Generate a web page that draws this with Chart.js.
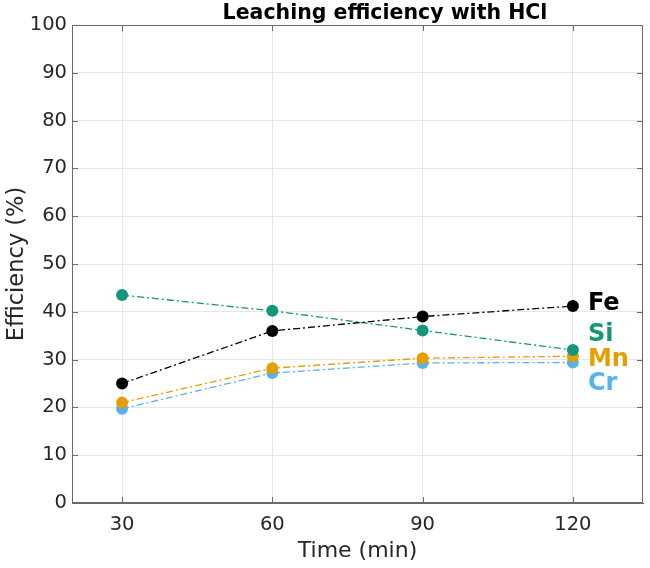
<!DOCTYPE html>
<html>
<head>
<meta charset="utf-8">
<script src="https://cdn.jsdelivr.net/npm/chart.js@4"></script>
<style>
  html, body { margin: 0; padding: 0; background: #fff; }
  #wrap { width: 650px; height: 568px; }
</style>
</head>
<body>
<div id="wrap"><canvas id="chart" width="650" height="568"></canvas></div>
<script>
// ---------- DATA ----------
const times = [30, 60, 90, 120];
const fe = [25.0, 36.0, 39.0, 41.2];
const si = [43.5, 40.2, 36.1, 32.0];
const mn = [21.0, 28.2, 30.3, 30.7];
const cr = [19.7, 27.2, 29.3, 29.4];
const xTicks = [30, 60, 90, 120];
const titleText = "Leaching efficiency with HCl";
// end labels: name, colour, y value where the text sits
const seriesNames = ["Fe", "Si", "Mn", "Cr"];
const labelY = [41.6, 35.2, 29.9, 25.0];

const colors = ["#000000", "#13977a", "#e69f00", "#56b4e9"];
const FONT = "'DejaVu Sans', Verdana, sans-serif";

function pts(vals) { return vals.map((v, i) => ({ x: times[i], y: v })); }

const datasets = [fe, si, mn, cr].map((vals, i) => ({
  label: seriesNames[i],
  data: pts(vals),
  borderColor: colors[i],
  backgroundColor: colors[i],
  borderWidth: 1.3,
  borderDash: [7, 3, 2, 3],
  pointRadius: 6,
  pointHoverRadius: 6,
  pointBorderWidth: 0,
  tension: 0
}));

// title, box around plot, inward tick marks, end labels
const boxAndLabels = {
  id: "boxAndLabels",
  afterDraw(chart) {
    const { ctx, chartArea: a, scales } = chart;
    ctx.save();
    ctx.strokeStyle = "#6a6a6a";
    ctx.lineWidth = 1;
    ctx.strokeRect(a.left + 0.5, a.top + 0.5, a.right - a.left - 1, a.bottom - a.top - 1);
    const tl = 6;
    ctx.beginPath();
    scales.x.ticks.forEach(t => {
      const px = Math.round(scales.x.getPixelForValue(t.value)) + 0.5;
      ctx.moveTo(px, a.bottom); ctx.lineTo(px, a.bottom - tl);
      ctx.moveTo(px, a.top); ctx.lineTo(px, a.top + tl);
    });
    scales.y.ticks.forEach(t => {
      const py = Math.round(scales.y.getPixelForValue(t.value)) + 0.5;
      ctx.moveTo(a.left, py); ctx.lineTo(a.left + tl, py);
      ctx.moveTo(a.right, py); ctx.lineTo(a.right - tl, py);
    });
    ctx.stroke();

    // title
    ctx.fillStyle = "#000";
    ctx.font = "bold 20.5px " + FONT;
    ctx.textAlign = "center";
    ctx.textBaseline = "alphabetic";
    ctx.fillText(titleText, 385, 19);

    ctx.font = "bold 24px " + FONT;
    ctx.textBaseline = "middle";
    ctx.textAlign = "left";
    const x = scales.x.getPixelForValue(times[times.length - 1]) + 15;
    seriesNames.forEach((n, i) => {
      ctx.fillStyle = colors[i];
      ctx.fillText(n, x, scales.y.getPixelForValue(labelY[i]));
    });
    ctx.restore();
  }
};

new Chart(document.getElementById("chart"), {
  type: "line",
  data: { datasets },
  options: {
    responsive: false,
    animation: false,
    layout: { padding: { top: 25, right: 7, left: 0, bottom: 0 } },
    plugins: {
      legend: { display: false },
      tooltip: { enabled: false },
      title: { display: false }
    },
    scales: {
      x: {
        type: "linear",
        min: 20,
        max: 134,
        afterBuildTicks: s => { s.ticks = xTicks.map(v => ({ value: v })); },
        afterFit: s => { s.height = 65; },
        grid: { color: "#e6e6e6", drawTicks: false },
        border: { color: "#6a6a6a" },
        ticks: { color: "#262626", font: { family: FONT, size: 19.5 }, padding: 10 },
        title: {
          display: true,
          text: "Time (min)",
          color: "#262626",
          font: { family: FONT, size: 22 },
          padding: { top: 0 }
        }
      },
      y: {
        min: 0,
        max: 100,
        afterFit: s => { s.width = 72; },
        grid: { color: "#e6e6e6", drawTicks: false },
        border: { color: "#6a6a6a" },
        ticks: { stepSize: 10, color: "#262626", font: { family: FONT, size: 19.5 }, padding: 5 },
        title: {
          display: true,
          text: "Efficiency (%)",
          color: "#262626",
          font: { family: FONT, size: 22.5 },
          padding: { bottom: 0 }
        }
      }
    }
  },
  plugins: [boxAndLabels]
});
</script>
</body>
</html>
